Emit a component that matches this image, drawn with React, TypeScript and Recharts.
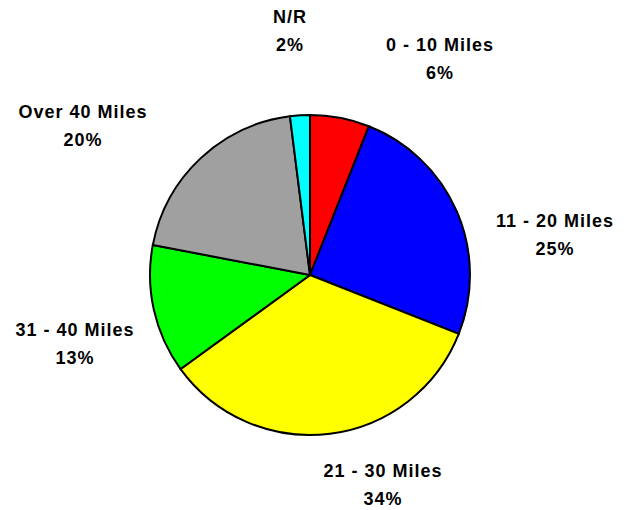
import React from 'react';
import { PieChart, Pie, Cell } from 'recharts';

const categories = ['0 - 10 Miles', '11 - 20 Miles', '21 - 30 Miles', '31 - 40 Miles', 'Over 40 Miles', 'N/R'];
const percents = [6, 25, 34, 13, 20, 2];
const colors = ['#FF0000', '#0000FF', '#FFFF00', '#00FF00', '#A0A0A0', '#00FFFF'];

// label offsets from pie centre (first line), Excel-style placement
const labelDx = [130, 245, 73, -235, -227, -20];
const labelDy = [-230, -54, 196, 55, -163, -258];

const data = categories.map((name, i) => ({ name, value: percents[i] }));

const renderLabel = (props: any) => {
  const { cx, cy, index } = props;
  const x = cx + labelDx[index];
  const y = cy + labelDy[index];
  return (
    <text
      x={x}
      y={y}
      textAnchor="middle"
      dominantBaseline="central"
      fill="#000"
      fontFamily="'Liberation Sans', Arial, sans-serif"
      fontWeight="bold"
      fontSize={18}
      letterSpacing={1}
    >
      <tspan x={x} y={y}>{categories[index]}</tspan>
      <tspan x={x} dy={28}>{percents[index]}%</tspan>
    </text>
  );
};

export default function App() {
  return (
    <div style={{ position: 'absolute', left: 0, top: 0, background: '#fff' }}>
      <PieChart width={632} height={510}>
        <Pie
          data={data}
          dataKey="value"
          nameKey="name"
          cx={305}
          cy={270}
          outerRadius={160}
          startAngle={90}
          endAngle={-270}
          stroke="#000"
          strokeWidth={2}
          label={renderLabel}
          labelLine={false}
          isAnimationActive={false}
        >
          {data.map((d, i) => (
            <Cell key={d.name} fill={colors[i]} />
          ))}
        </Pie>
      </PieChart>
    </div>
  );
}
